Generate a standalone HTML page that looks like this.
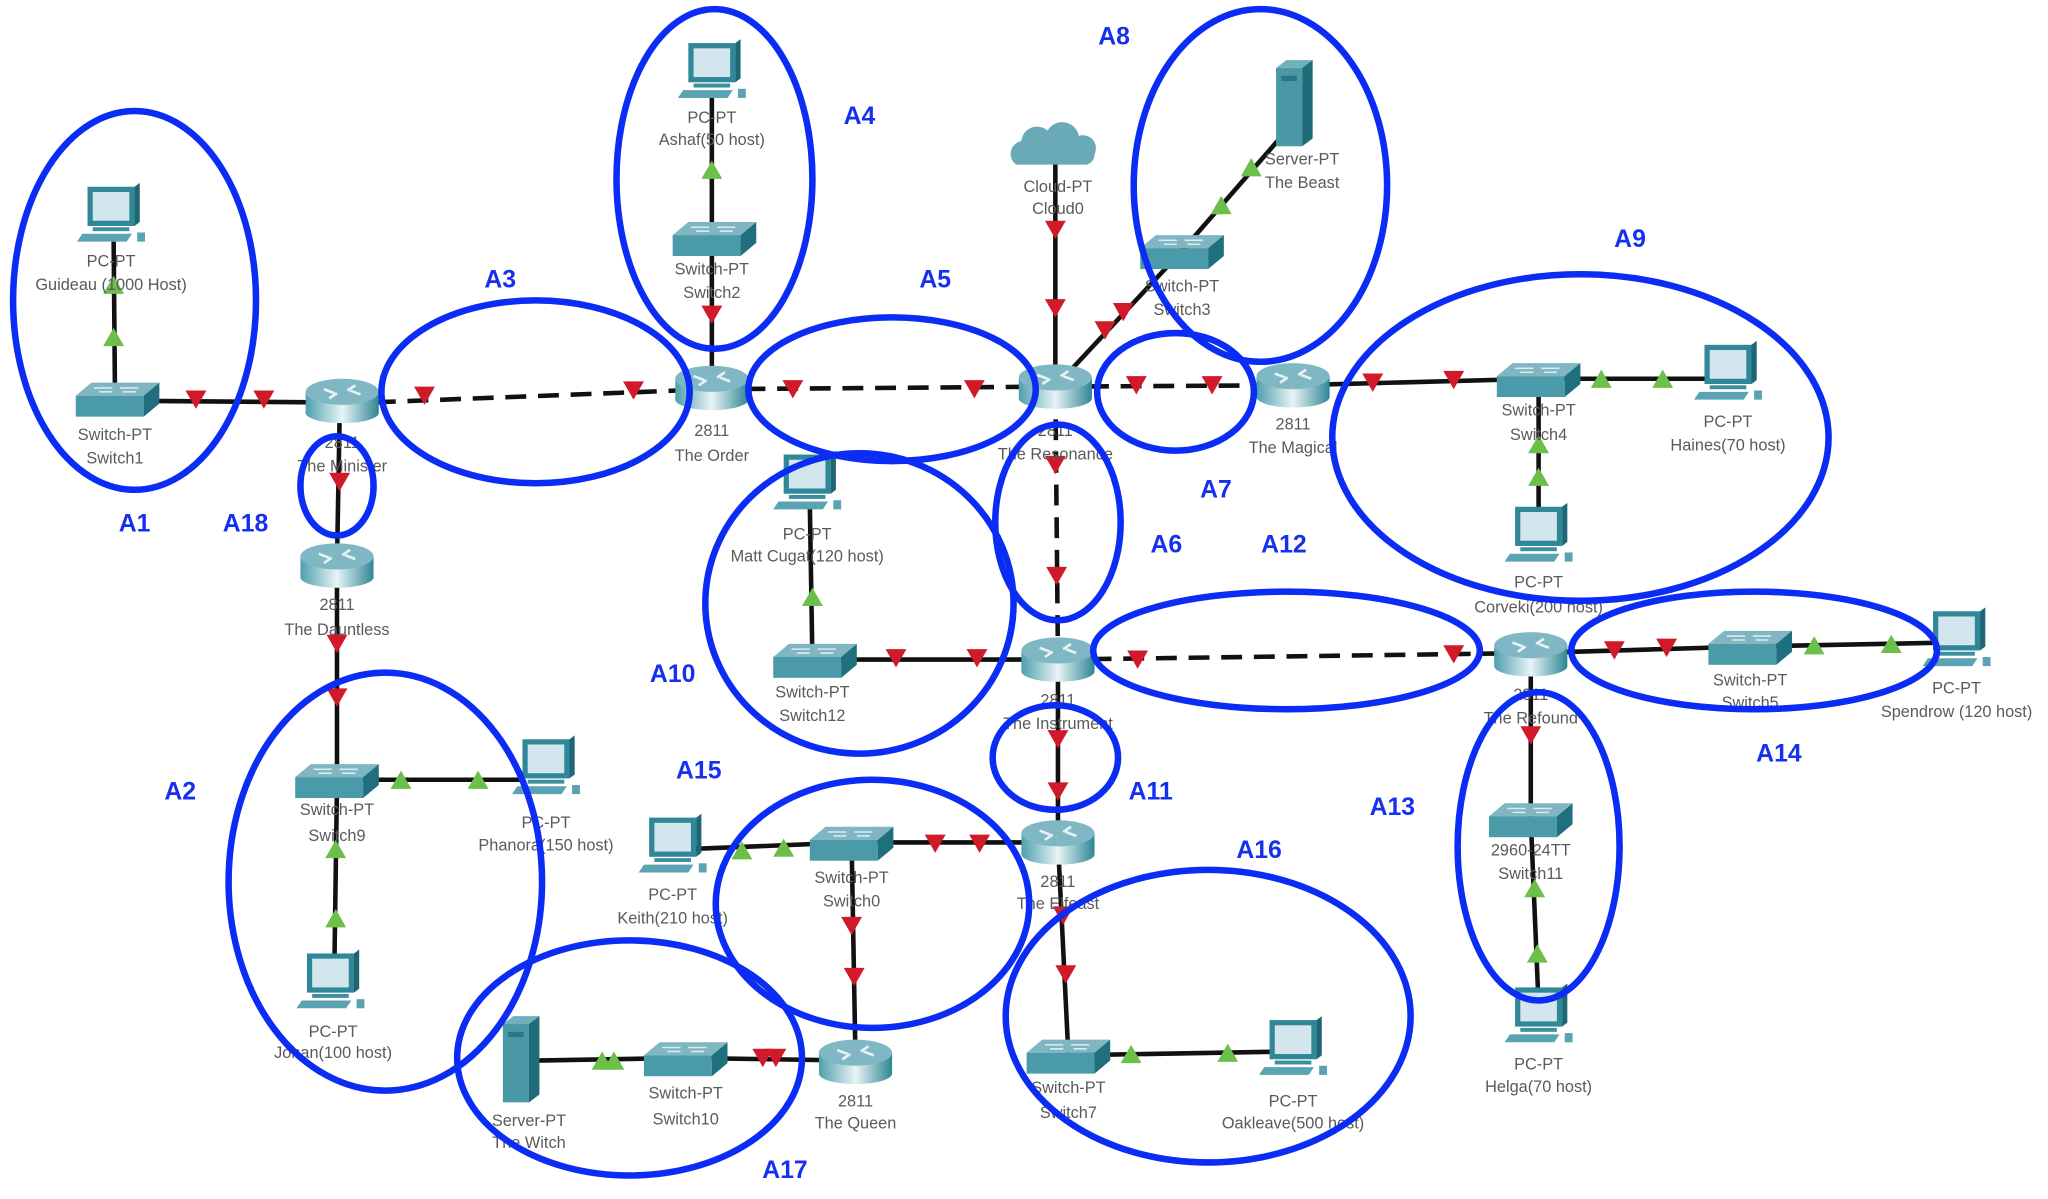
<!DOCTYPE html>
<html><head><meta charset="utf-8"><style>
html,body{margin:0;padding:0;background:#fff;width:2048px;height:1199px;overflow:hidden}
svg{display:block}
.t{font-family:"Liberation Sans",sans-serif;font-size:12.5px;fill:#5a5a5a;text-anchor:middle}
.a{font-family:"Liberation Sans",sans-serif;font-size:19px;font-weight:bold;fill:#1530f0;text-anchor:middle}
.e{fill:none;stroke:#0a2cf5;stroke-width:5}
.l{stroke:#111;stroke-width:3.5;fill:none}
.d{stroke:#111;stroke-width:3.5;fill:none;stroke-dasharray:16 9}
</style></head><body>
<svg width="2048" height="1199" viewBox="0 0 1568 918" xmlns="http://www.w3.org/2000/svg">
<defs>
<linearGradient id="rg" x1="0" x2="1"><stop offset="0" stop-color="#4e9fae"/><stop offset=".5" stop-color="#e8f4f6"/><stop offset="1" stop-color="#2f8595"/></linearGradient>
<symbol id="router" overflow="visible"><rect x="-28" y="-6" width="56" height="16" fill="url(#rg)"/><ellipse cx="0" cy="10" rx="28" ry="8" fill="url(#rg)"/><ellipse cx="0" cy="-6" rx="28" ry="10" fill="#7fb8c4"/><path d="M-14-8l8 3M14-4l-8-3M-10-1l6-4M10-11l-6 4" stroke="#e6f2f4" stroke-width="2"/></symbol>
<symbol id="switch" overflow="visible"><path d="M-32 -2 L-20 -12 L32 -12 L20 -2 Z" fill="#7fb6c2"/><rect x="-32" y="-2" width="52" height="16" fill="#4a9aaa"/><path d="M20 -2 L32 -12 L32 4 L20 14Z" fill="#1f6f7e"/><path d="M-18-8h14M2-8h14M-14-5h10M4-5h10" stroke="#d8ecf0" stroke-width="1.2"/></symbol>
<symbol id="pc" overflow="visible"><rect x="-18" y="-22" width="36" height="30" fill="#2f8798"/><rect x="-14" y="-18" width="28" height="22" fill="#d3e6ee"/><path d="M18-22l4-3v30l-4 3z" fill="#1f6675"/><rect x="-14" y="9" width="28" height="3" fill="#3b8fa0"/><path d="M-22 14h38l-4 6h-38z" fill="#5aa3b2"/><rect x="20" y="13" width="6" height="7" fill="#5aa3b2"/></symbol>
<symbol id="server" overflow="visible"><path d="M-20-28l8-6h20l-8 6z" fill="#6fb0bd"/><rect x="-20" y="-28" width="20" height="60" fill="#4a97a6"/><path d="M0-28l8-6v60l-8 6z" fill="#1f6b7a"/><rect x="-16" y="-22" width="12" height="4" fill="#2a7686"/></symbol>
<symbol id="cloud" overflow="visible"><path d="M-30 8 a10 10 0 0 1 4-18 a12 12 0 0 1 20-8 a13 13 0 0 1 24 4 a10 10 0 0 1 12 14 a8 8 0 0 1-6 8z" fill="#6aa9b8"/></symbol>
<symbol id="r" overflow="visible"><polygon points="-8,-6 8,-6 0,8" fill="#d01a2a"/></symbol>
<symbol id="g" overflow="visible"><polygon points="-8,7 8,7 0,-7" fill="#6cc04a"/></symbol>
</defs>

<!-- links -->
<g>
<line class="l" x1="87" y1="185" x2="88" y2="300"/>
<line class="l" x1="115" y1="307" x2="240" y2="308"/>
<line class="d" x1="262" y1="309" x2="545" y2="298"/>
<line class="l" x1="260" y1="320" x2="258" y2="430"/>
<line class="l" x1="258" y1="445" x2="258" y2="592"/>
<line class="l" x1="258" y1="597" x2="400" y2="597"/>
<line class="l" x1="258" y1="600" x2="256" y2="740"/>
<line class="l" x1="545" y1="298" x2="545" y2="183"/>
<line class="l" x1="545" y1="183" x2="545" y2="75"/>
<line class="d" x1="545" y1="298" x2="808" y2="296"/>
<line class="l" x1="808" y1="125" x2="808" y2="296"/>
<line class="l" x1="808" y1="296" x2="905" y2="192"/>
<line class="l" x1="905" y1="192" x2="985" y2="100"/>
<line class="d" x1="808" y1="296" x2="990" y2="295"/>
<line class="l" x1="990" y1="295" x2="1178" y2="290"/>
<line class="l" x1="1178" y1="290" x2="1310" y2="290"/>
<line class="l" x1="1178" y1="290" x2="1178" y2="400"/>
<line class="d" x1="808" y1="296" x2="810" y2="505"/>
<line class="l" x1="620" y1="385" x2="622" y2="505"/>
<line class="l" x1="622" y1="505" x2="810" y2="505"/>
<line class="d" x1="810" y1="505" x2="1172" y2="500"/>
<line class="l" x1="1172" y1="500" x2="1340" y2="495"/>
<line class="l" x1="1340" y1="495" x2="1490" y2="492"/>
<line class="l" x1="1172" y1="500" x2="1172" y2="627"/>
<line class="l" x1="1172" y1="627" x2="1178" y2="770"/>
<line class="l" x1="810" y1="505" x2="810" y2="645"/>
<line class="l" x1="810" y1="645" x2="652" y2="645"/>
<line class="l" x1="652" y1="645" x2="530" y2="650"/>
<line class="l" x1="652" y1="645" x2="655" y2="812"/>
<line class="l" x1="655" y1="812" x2="525" y2="810"/>
<line class="l" x1="525" y1="810" x2="410" y2="812"/>
<line class="l" x1="810" y1="645" x2="818" y2="808"/>
<line class="l" x1="818" y1="808" x2="990" y2="805"/>
</g>

<!-- triangles -->
<g>
<use href="#g" x="87" y="258"/><use href="#g" x="87" y="218"/>
<use href="#r" x="150" y="305"/><use href="#r" x="202" y="305"/>
<use href="#r" x="325" y="302"/><use href="#r" x="485" y="298"/>
<use href="#r" x="260" y="368"/>
<use href="#r" x="258" y="492"/><use href="#r" x="258" y="533"/>
<use href="#g" x="307" y="597"/><use href="#g" x="366" y="597"/>
<use href="#g" x="257" y="650"/><use href="#g" x="257" y="703"/>
<use href="#r" x="545" y="240"/>
<use href="#g" x="545" y="130"/>
<use href="#r" x="607" y="297"/><use href="#r" x="746" y="297"/>
<use href="#r" x="808" y="175"/><use href="#r" x="808" y="235"/>
<use href="#r" x="846" y="252"/><use href="#r" x="860" y="238"/>
<use href="#g" x="935" y="157"/><use href="#g" x="958" y="128"/>
<use href="#r" x="870" y="294"/><use href="#r" x="928" y="294"/>
<use href="#r" x="1051" y="292"/><use href="#r" x="1113" y="290"/>
<use href="#g" x="1226" y="290"/><use href="#g" x="1273" y="290"/>
<use href="#g" x="1178" y="340"/><use href="#g" x="1178" y="365"/>
<use href="#r" x="808" y="355"/><use href="#r" x="809" y="440"/>
<use href="#g" x="622" y="457"/>
<use href="#r" x="686" y="503"/><use href="#r" x="748" y="503"/>
<use href="#r" x="871" y="504"/><use href="#r" x="1113" y="500"/>
<use href="#r" x="1236" y="497"/><use href="#r" x="1276" y="495"/>
<use href="#g" x="1389" y="494"/><use href="#g" x="1448" y="493"/>
<use href="#r" x="1172" y="562"/>
<use href="#g" x="1175" y="680"/><use href="#g" x="1177" y="730"/>
<use href="#r" x="810" y="565"/><use href="#r" x="810" y="605"/>
<use href="#r" x="750" y="645"/><use href="#r" x="716" y="645"/>
<use href="#g" x="600" y="649"/><use href="#g" x="568" y="651"/>
<use href="#r" x="652" y="708"/><use href="#r" x="654" y="747"/>
<use href="#r" x="594" y="809"/><use href="#r" x="584" y="809"/>
<use href="#g" x="470" y="812"/><use href="#g" x="461" y="812"/>
<use href="#r" x="814" y="700"/><use href="#r" x="816" y="745"/>
<use href="#g" x="866" y="807"/><use href="#g" x="940" y="806"/>
</g>

<!-- devices -->
<g>
<use href="#pc" x="85" y="165"/>
<use href="#switch" x="90" y="305"/>
<use href="#router" x="262" y="306"/>
<use href="#router" x="258" y="432"/>
<use href="#switch" x="258" y="597"/>
<use href="#pc" x="418" y="588"/>
<use href="#pc" x="253" y="752"/>
<use href="#router" x="545" y="296"/>
<use href="#switch" x="547" y="182"/>
<use href="#pc" x="545" y="55"/>
<use href="#cloud" x="808" y="118"/>
<use href="#router" x="808" y="295"/>
<use href="#switch" x="905" y="192"/>
<use href="#server" x="997" y="80"/>
<use href="#router" x="990" y="294"/>
<use href="#switch" x="1178" y="290"/>
<use href="#pc" x="1323" y="286"/>
<use href="#pc" x="1178" y="410"/>
<use href="#pc" x="618" y="370"/>
<use href="#switch" x="624" y="505"/>
<use href="#router" x="810" y="504"/>
<use href="#router" x="1172" y="500"/>
<use href="#switch" x="1340" y="495"/>
<use href="#pc" x="1498" y="490"/>
<use href="#switch" x="1172" y="627"/>
<use href="#pc" x="1178" y="778"/>
<use href="#router" x="810" y="644"/>
<use href="#switch" x="652" y="645"/>
<use href="#pc" x="515" y="648"/>
<use href="#router" x="655" y="812"/>
<use href="#switch" x="525" y="810"/>
<use href="#server" x="405" y="812"/>
<use href="#switch" x="818" y="808"/>
<use href="#pc" x="990" y="803"/>
</g>

<!-- labels -->
<g class="t">
<text x="85" y="204">PC-PT</text><text x="85" y="222">Guideau (1000 Host)</text>
<text x="88" y="337">Switch-PT</text><text x="88" y="355">Switch1</text>
<text x="262" y="343">2811</text><text x="262" y="361">The Minister</text>
<text x="258" y="467">2811</text><text x="258" y="486">The Dauntless</text>
<text x="258" y="624">Switch-PT</text><text x="258" y="644">Switch9</text>
<text x="418" y="634">PC-PT</text><text x="418" y="651">Phanora(150 host)</text>
<text x="255" y="794">PC-PT</text><text x="255" y="810">Johan(100 host)</text>
<text x="545" y="334">2811</text><text x="545" y="353">The Order</text>
<text x="545" y="210">Switch-PT</text><text x="545" y="228">Switch2</text>
<text x="545" y="94">PC-PT</text><text x="545" y="111">Ashaf(50 host)</text>
<text x="810" y="147">Cloud-PT</text><text x="810" y="164">Cloud0</text>
<text x="808" y="334">2811</text><text x="808" y="352">The Resonance</text>
<text x="905" y="223">Switch-PT</text><text x="905" y="241">Switch3</text>
<text x="997" y="126">Server-PT</text><text x="997" y="144">The Beast</text>
<text x="990" y="329">2811</text><text x="990" y="347">The Magical</text>
<text x="1178" y="318">Switch-PT</text><text x="1178" y="337">Switch4</text>
<text x="1323" y="327">PC-PT</text><text x="1323" y="345">Haines(70 host)</text>
<text x="1178" y="450">PC-PT</text><text x="1178" y="469">Corveki(200 host)</text>
<text x="618" y="413">PC-PT</text><text x="618" y="430">Matt Cugat(120 host)</text>
<text x="622" y="534">Switch-PT</text><text x="622" y="552">Switch12</text>
<text x="810" y="540">2811</text><text x="810" y="558">The Instrument</text>
<text x="1172" y="536">2811</text><text x="1172" y="554">The Refound</text>
<text x="1340" y="525">Switch-PT</text><text x="1340" y="542">Switch5</text>
<text x="1498" y="531">PC-PT</text><text x="1498" y="549">Spendrow (120 host)</text>
<text x="1172" y="655">2960-24TT</text><text x="1172" y="673">Switch11</text>
<text x="1178" y="819">PC-PT</text><text x="1178" y="836">Helga(70 host)</text>
<text x="810" y="679">2811</text><text x="810" y="696">The Elfeast</text>
<text x="652" y="676">Switch-PT</text><text x="652" y="694">Switch0</text>
<text x="515" y="689">PC-PT</text><text x="515" y="707">Keith(210 host)</text>
<text x="655" y="847">2811</text><text x="655" y="864">The Queen</text>
<text x="525" y="841">Switch-PT</text><text x="525" y="861">Switch10</text>
<text x="405" y="862">Server-PT</text><text x="405" y="879">The Witch</text>
<text x="818" y="837">Switch-PT</text><text x="818" y="856">Switch7</text>
<text x="990" y="847">PC-PT</text><text x="990" y="864">Oakleave(500 host)</text>
</g>

<!-- ellipses -->
<g>
<ellipse class="e" cx="103" cy="230" rx="93" ry="145"/>
<ellipse class="e" cx="410" cy="300" rx="118" ry="70"/>
<ellipse class="e" cx="547" cy="137" rx="75" ry="130"/>
<ellipse class="e" cx="683" cy="298" rx="110" ry="55"/>
<ellipse class="e" cx="965" cy="142" rx="97" ry="135"/>
<ellipse class="e" cx="900" cy="300" rx="60" ry="45"/>
<ellipse class="e" cx="1210" cy="335" rx="190" ry="125"/>
<ellipse class="e" cx="258" cy="372" rx="28" ry="38"/>
<ellipse class="e" cx="810" cy="400" rx="48" ry="75"/>
<ellipse class="e" cx="658" cy="462" rx="118" ry="115"/>
<ellipse class="e" cx="985" cy="498" rx="148" ry="45"/>
<ellipse class="e" cx="1343" cy="498" rx="140" ry="45"/>
<ellipse class="e" cx="808" cy="580" rx="48" ry="40"/>
<ellipse class="e" cx="295" cy="675" rx="120" ry="160"/>
<ellipse class="e" cx="668" cy="692" rx="120" ry="95"/>
<ellipse class="e" cx="925" cy="778" rx="155" ry="112"/>
<ellipse class="e" cx="1178" cy="648" rx="62" ry="118"/>
<ellipse class="e" cx="482" cy="810" rx="132" ry="90"/>
</g>

<g class="a">
<text x="103" y="407">A1</text><text x="188" y="407">A18</text>
<text x="383" y="220">A3</text><text x="658" y="95">A4</text>
<text x="716" y="220">A5</text><text x="853" y="34">A8</text>
<text x="1248" y="189">A9</text><text x="931" y="381">A7</text>
<text x="893" y="423">A6</text><text x="983" y="423">A12</text>
<text x="515" y="522">A10</text><text x="535" y="596">A15</text>
<text x="138" y="612">A2</text><text x="881" y="612">A11</text>
<text x="1066" y="624">A13</text><text x="964" y="657">A16</text>
<text x="1362" y="583">A14</text><text x="601" y="902">A17</text>
</g>
</svg>
</body></html>
